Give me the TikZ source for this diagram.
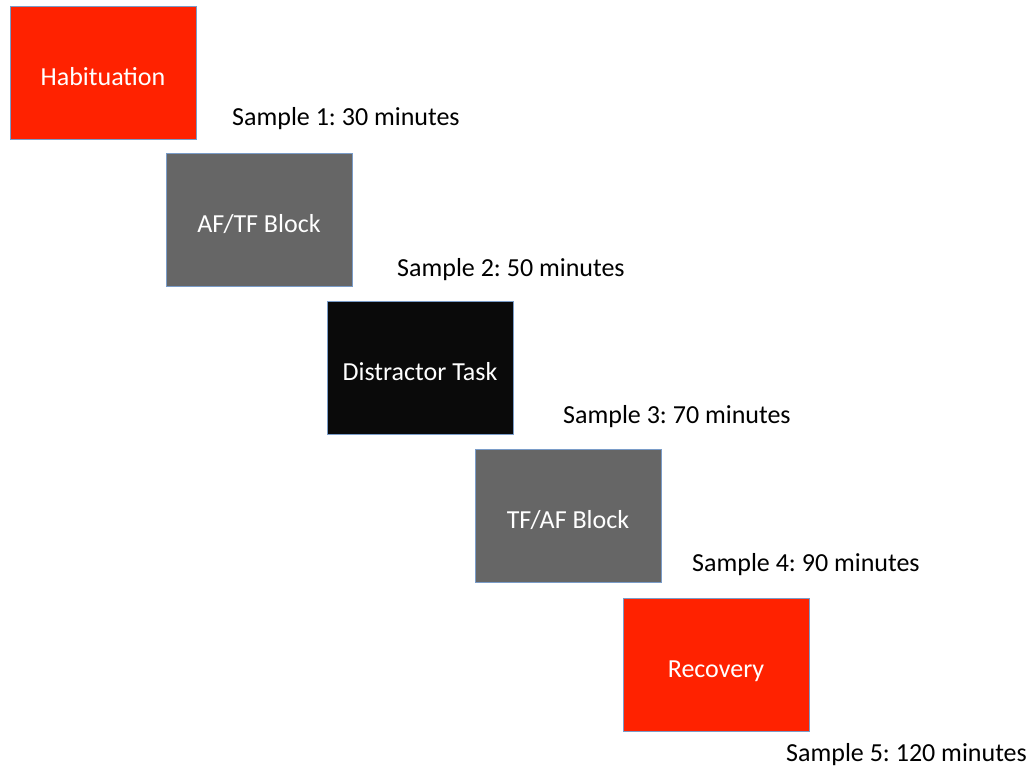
\documentclass[tikz,border=0pt]{standalone}
\usepackage{fontspec}
\setmainfont{Carlito}
\frenchspacing
\definecolor{hred}{HTML}{FF2200}
\definecolor{hgray}{HTML}{666666}
\definecolor{hblack}{HTML}{0A0A0A}
\definecolor{hedge}{HTML}{7A9CC8}
\begin{document}
\begin{tikzpicture}[x=1pt,y=-1pt,
  stage/.style={draw=hedge, line width=1pt, minimum width=186pt, minimum height=133pt, inner sep=0pt, text height=25pt, text depth=0pt, text=white, font=\fontsize{26}{30}\selectfont},
  samp/.style={anchor=west, inner sep=0pt, text=black, font=\fontsize{26}{30}\selectfont}]
\useasboundingbox (0,0) rectangle (1033,769);
\node[stage, fill=hred] (hab) at (103,72.5) {Habituation};
\node[stage, fill=hgray] (aftf) at (259,220) {AF/TF Block};
\node[stage, fill=hblack] (dis) at (420,367.5) {Distractor Task};
\node[stage, fill=hgray] (tfaf) at (568,515.5) {TF/AF Block};
\node[stage, fill=hred] (rec) at (716,664.5) {Recovery};
\node[samp] (s1) at (232,119) {Sample 1: 30 minutes};
\node[samp] (s2) at (397,270) {Sample 2: 50 minutes};
\node[samp] (s3) at (563,417) {Sample 3: 70 minutes};
\node[samp] (s4) at (692,565) {Sample 4: 90 minutes};
\node[samp] (s5) at (786,755) {Sample 5: 120 minutes};
\end{tikzpicture}
\end{document}
